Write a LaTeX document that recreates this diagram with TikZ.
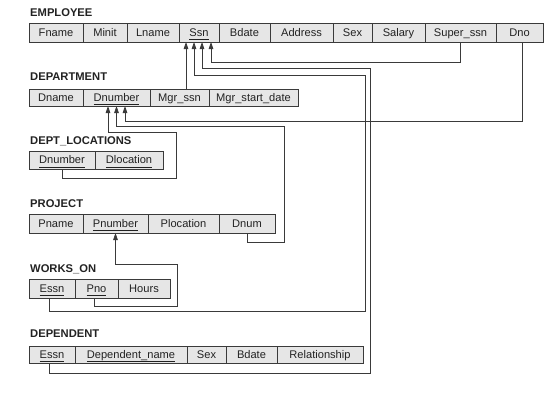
\documentclass[tikz,border=0pt]{standalone}
\usepackage{fontspec}
\setmainfont{Liberation Sans}
\usetikzlibrary{arrows.meta}
\definecolor{cellfill}{HTML}{E6E6E6}
\definecolor{edge}{HTML}{3A3A3A}
\definecolor{ink}{HTML}{222222}
\newcommand\rcell[6]{\node[cellbox, minimum width={(#3-#2)*1pt}, minimum height={(#5-#4)*1pt}] (#1) at ({(#2+#3)/2},{(#4+#5)/2}) {#6};}
\newcommand\rtitle[3]{\node[titlebox] (#1) at (30,#2) {#3};}
\newcommand\keyul[1]{\underline{\smash{#1}\rule[-2.2pt]{0pt}{0pt}}}
\begin{document}
\begin{tikzpicture}[x=1pt,y=-1pt,
  cellbox/.style={draw=edge, line width=0.8pt, fill=cellfill, inner sep=0pt, outer sep=0pt,
    text=ink, font=\fontsize{11.1}{13}\selectfont, text height=9pt, text depth=2pt},
  titlebox/.style={anchor=base west, inner sep=0pt, text=ink, font=\fontsize{11.2}{13}\selectfont\bfseries},
  fk/.style={draw=edge, line width=0.8pt, -{Triangle[length=7pt,width=4.6pt]}}]
\useasboundingbox (0,0) rectangle (559,408);
% EMPLOYEE
\rtitle{temp}{16}{EMPLOYEE}
\rcell{efname}{29}{83}{23}{42}{Fname}
\rcell{eminit}{83}{127}{23}{42}{Minit}
\rcell{elname}{127}{179}{23}{42}{Lname}
\rcell{essn}{179}{219}{23}{42}{\keyul{Ssn}}
\rcell{ebdate}{219}{270}{23}{42}{Bdate}
\rcell{eaddr}{270}{333}{23}{42}{Address}
\rcell{esex}{333}{372}{23}{42}{Sex}
\rcell{esal}{372}{425}{23}{42}{Salary}
\rcell{esuper}{425}{496}{23}{42}{Super\_ssn}
\rcell{edno}{496}{543}{23}{42}{Dno}
% DEPARTMENT
\rtitle{tdept}{80}{DEPARTMENT}
\rcell{dname}{29}{83}{89}{106}{Dname}
\rcell{dnum}{83}{150}{89}{106}{\keyul{Dnumber}}
\rcell{dmgr}{150}{209}{89}{106}{Mgr\_ssn}
\rcell{dmsd}{209}{298}{89}{106}{Mgr\_start\_date}
% DEPT_LOCATIONS
\rtitle{tdloc}{144}{DEPT\_LOCATIONS}
\rcell{ldnum}{29}{95}{151}{169}{\keyul{Dnumber}}
\rcell{lloc}{95}{163}{151}{169}{\keyul{Dlocation}}
% PROJECT
\rtitle{tproj}{207}{PROJECT}
\rcell{pname}{29}{83}{214}{233}{Pname}
\rcell{pnum}{83}{148}{214}{233}{\keyul{Pnumber}}
\rcell{ploc}{148}{219}{214}{233}{Plocation}
\rcell{pdnum}{219}{275}{214}{233}{Dnum}
% WORKS_ON
\rtitle{twork}{272}{WORKS\_ON}
\rcell{wessn}{29}{75}{279}{298}{\keyul{Essn}}
\rcell{wpno}{75}{118}{279}{298}{\keyul{Pno}}
\rcell{whours}{118}{170}{279}{298}{Hours}
% DEPENDENT
\rtitle{tdep}{337}{DEPENDENT}
\rcell{nessn}{29}{75}{346}{363}{\keyul{Essn}}
\rcell{nname}{75}{187}{346}{363}{\keyul{Dependent\_name}}
\rcell{nsex}{187}{226}{346}{363}{Sex}
\rcell{nbdate}{226}{277}{346}{363}{Bdate}
\rcell{nrel}{277}{363}{346}{363}{Relationship}
% foreign keys to EMPLOYEE.Ssn
\draw[fk] (esuper.south) |- ([xshift=12pt]essn.south |- 0,62) -- ([xshift=12pt]essn.south);
\draw[fk] ([xshift=-3pt]nessn.south) |- (370,373) |- ([xshift=3pt]essn.south |- 0,68) -- ([xshift=3pt]essn.south);
\draw[fk] ([xshift=-3pt]wessn.south) |- (365,311) |- ([xshift=-5pt]essn.south |- 0,75) -- ([xshift=-5pt]essn.south);
\draw[fk] ([xshift=-13pt]essn.south |- dmgr.north) -- ([xshift=-13pt]essn.south);
% foreign keys to DEPARTMENT.Dnumber
\draw[fk] ([xshift=3pt]edno.south) |- ([xshift=8.5pt]dnum.south |- 0,121) -- ([xshift=8.5pt]dnum.south);
\draw[fk] (pdnum.south) |- (284,242) |- (dnum.south |- 0,126) -- (dnum.south);
\draw[fk] (ldnum.south) |- (176,178) |- ([xshift=-8.5pt]dnum.south |- 0,132) -- ([xshift=-8.5pt]dnum.south);
% foreign key to PROJECT.Pnumber
\draw[fk] ([xshift=-2.5pt]wpno.south) |- (177,306) |- (pnum.south |- 0,264) -- (pnum.south);
\end{tikzpicture}
\end{document}
